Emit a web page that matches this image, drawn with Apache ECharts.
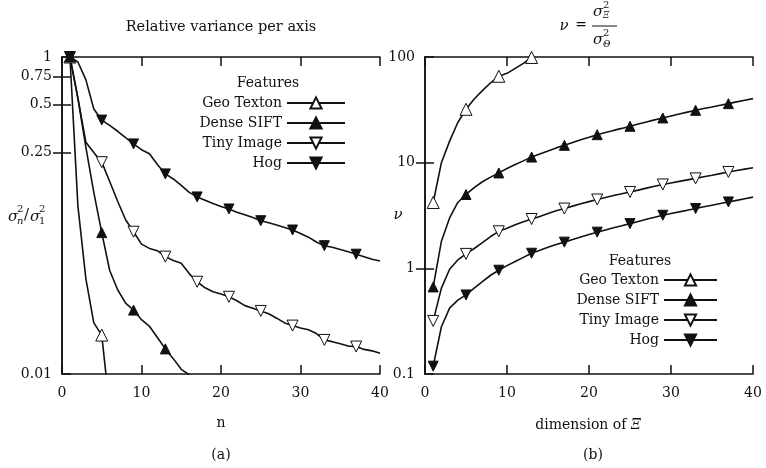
<!DOCTYPE html>
<html><head><meta charset="utf-8">
<script src="https://cdn.jsdelivr.net/npm/echarts@6/dist/echarts.min.js"></script>
<style>html,body{margin:0;padding:0;background:#fff}#c{width:766px;height:468px}</style>
</head><body><div id="c"></div>
<script>
// ---------- data ----------
const seriesNames = ['Geo Texton', 'Dense SIFT', 'Tiny Image', 'Hog'];
const markerN = [1, 5, 9, 13, 17, 21, 25, 29, 33, 37];
const nAll = [1,2,3,4,5,6,7,8,9,10,11,12,13,14,15,16,17,18,19,20,21,22,23,24,25,26,27,28,29,30,31,32,33,34,35,36,37,38,39,40];

// (a) relative variance per axis
const relGeo   = [1.0, 0.115, 0.04, 0.021, 0.0176, 0.006];
const relDense = [1.0, 0.55, 0.27, 0.14, 0.078, 0.045, 0.034, 0.028, 0.0253, 0.022, 0.020, 0.017, 0.0144, 0.0125, 0.0107, 0.0099, 0.0085];
const relTiny  = [1.0, 0.55, 0.29, 0.25, 0.217, 0.164, 0.123, 0.094, 0.079, 0.066, 0.062, 0.060, 0.055, 0.052, 0.050, 0.043, 0.0382, 0.035, 0.033, 0.032,
                  0.0307, 0.029, 0.027, 0.026, 0.025, 0.024, 0.0225, 0.021, 0.0202, 0.0195, 0.019, 0.018, 0.0164, 0.016, 0.0155, 0.015, 0.0149, 0.0143, 0.014, 0.0135];
const relHog   = [1.0, 0.93, 0.72, 0.47, 0.40, 0.37, 0.34, 0.31, 0.283, 0.26, 0.245, 0.21, 0.183, 0.17, 0.155, 0.14, 0.131, 0.125, 0.119, 0.114,
                  0.110, 0.105, 0.101, 0.097, 0.0927, 0.090, 0.087, 0.084, 0.081, 0.077, 0.073, 0.068, 0.0645, 0.063, 0.061, 0.059, 0.057, 0.055, 0.053, 0.0516];

// (b) nu
const nuGeo   = [4.2, 10, 16, 24, 32, 40, 48, 57, 65.7, 70, 78, 87, 99];
const nuDense = [0.667, 1.8, 3.0, 4.2, 5.0, 5.8, 6.6, 7.3, 8.0, 8.8, 9.6, 10.4, 11.3, 12.1, 12.9, 13.8, 14.6, 15.5, 16.5, 17.4,
                 18.4, 19.3, 20.2, 21.1, 22.1, 23.2, 24.3, 25.4, 26.5, 27.7, 28.9, 30.1, 31.3, 32.5, 33.7, 35.0, 36.2, 37.6, 39.0, 40.4];
const nuTiny  = [0.318, 0.65, 0.98, 1.2, 1.37, 1.54, 1.75, 2.0, 2.24, 2.4, 2.58, 2.76, 2.93, 3.1, 3.3, 3.5, 3.68, 3.88, 4.08, 4.28,
                 4.48, 4.68, 4.88, 5.08, 5.28, 5.5, 5.74, 5.98, 6.22, 6.43, 6.65, 6.87, 7.1, 7.35, 7.6, 7.88, 8.17, 8.42, 8.68, 8.95];
const nuHog   = [0.1186, 0.28, 0.42, 0.5, 0.56, 0.65, 0.75, 0.86, 0.96, 1.06, 1.16, 1.27, 1.39, 1.48, 1.58, 1.68, 1.77, 1.87, 1.98, 2.09,
                 2.2, 2.31, 2.42, 2.53, 2.65, 2.78, 2.91, 3.04, 3.18, 3.3, 3.42, 3.55, 3.68, 3.82, 3.96, 4.1, 4.25, 4.4, 4.56, 4.72];

const leftYLabels = [0.01, 0.25, 0.5, 0.75, 1];
const leftYMirrorTicks = [0.25, 0.5, 0.75];
const rightYLabels = [0.1, 1, 10, 100];
const rightYMirrorTicks = [1, 10];

// ---------- style ----------
const FONT = 'DejaVu Serif';
const FS = 14;
const INK = '#111';
const styles = {
  'Geo Texton': { symbol: 'triangle', rotate: 0,   fill: '#fff', size: 12 },
  'Dense SIFT': { symbol: 'triangle', rotate: 0,   fill: INK,    size: 10 },
  'Tiny Image': { symbol: 'triangle', rotate: 180, fill: '#fff', size: 11 },
  'Hog':        { symbol: 'triangle', rotate: 180, fill: INK,    size: 10 }
};

function mkSeries(name, vals, xi, yi) {
  const s = styles[name];
  return {
    name, type: 'line', xAxisIndex: xi, yAxisIndex: yi,
    clip: true, showAllSymbol: true,
    symbol: s.symbol, symbolRotate: s.rotate, symbolSize: s.size,
    itemStyle: { color: s.fill, borderColor: INK, borderWidth: 1 },
    lineStyle: { color: INK, width: 1.6 },
    emphasis: { disabled: true },
    data: vals.map((v, i) => ({ value: [nAll[i], v], symbolSize: markerN.includes(nAll[i]) ? s.size : 0 }))
  };
}

const fmt = v => String(parseFloat(Number(v).toPrecision(3)));
const axLine = { show: true, lineStyle: { color: INK, width: 1.5 } };
const tickStyle = { color: INK, width: 1.5 };

function xAxes(gi) {
  return [
    { gridIndex: gi, type: 'value', min: 0, max: 40, interval: 10, position: 'bottom',
      axisLine: axLine, axisTick: { show: true, inside: true, length: 9, lineStyle: tickStyle },
      axisLabel: { show: true, color: INK, fontFamily: FONT, fontSize: FS, margin: 12, formatter: fmt }, splitLine: { show: false } },
    { gridIndex: gi, type: 'value', min: 0, max: 40, interval: 10, position: 'top',
      axisLine: axLine, axisTick: { show: true, inside: true, length: 9, lineStyle: tickStyle },
      axisLabel: { show: false }, splitLine: { show: false } }
  ];
}

function logY(gi, min, max, labels, mirrorTicks) {
  return [
    { gridIndex: gi, type: 'log', logBase: 10, min, max, position: 'left',
      axisLine: axLine, axisTick: { show: true, inside: true, length: 9, customValues: labels, lineStyle: tickStyle },
      minorTick: { show: false },
      axisLabel: { show: true, color: INK, fontFamily: FONT, fontSize: FS, margin: 10, customValues: labels, formatter: fmt },
      splitLine: { show: false } },
    { gridIndex: gi, type: 'log', logBase: 10, min, max, position: 'right',
      axisLine: axLine, axisTick: { show: true, inside: true, length: 9, customValues: mirrorTicks, lineStyle: tickStyle },
      minorTick: { show: false },
      axisLabel: { show: false }, splitLine: { show: false } }
  ];
}

function T(x, y, text, opt) {
  opt = opt || {};
  return { type: 'text', x, y, silent: true, z: 100,
    style: { text, fill: INK, fontFamily: FONT, fontSize: opt.size || FS, fontStyle: opt.italic ? 'italic' : 'normal',
             align: opt.align || 'center', verticalAlign: 'middle', rich: opt.rich } };
}

const graphics = [
  T(221, 27, 'Relative variance per axis', { size: 14.5 }),
  T(221, 423, 'n'),
  T(221, 455, '(a)'),
  T(593, 455, '(b)'),
  T(588, 425, '{a|dimension of }{i|Ξ}', { rich: { a: { fontFamily: FONT, fontSize: FS, fill: INK }, i: { fontFamily: FONT, fontSize: FS, fontStyle: 'italic', fill: INK } } }),
  T(268, 83, 'Features'),
  T(640, 261, 'Features'),
  // y name (a): sigma_n^2 / sigma_1^2
  T(8, 217, 'σ', { italic: true, align: 'left', size: 15 }),
  T(17, 209, '2', { align: 'left', size: 10 }),
  T(17, 221, 'n', { italic: true, align: 'left', size: 10 }),
  T(24, 215, '/', { align: 'left', size: 15 }),
  T(30, 217, 'σ', { italic: true, align: 'left', size: 15 }),
  T(39, 209, '2', { align: 'left', size: 10 }),
  T(39, 221, '1', { align: 'left', size: 10 }),
  // y name (b)
  T(398, 215, 'ν', { italic: true, size: 15 }),
  // title (b): nu = sigma_Xi^2 / sigma_Theta^2
  T(564, 26, 'ν', { italic: true, size: 15 }),
  T(581, 25, '=', { size: 14 }),
  T(593, 12, 'σ', { italic: true, align: 'left', size: 15 }),
  T(603, 5, '2', { align: 'left', size: 10 }),
  T(603, 16, 'Ξ', { italic: true, align: 'left', size: 9 }),
  T(593, 40, 'σ', { italic: true, align: 'left', size: 15 }),
  T(603, 33, '2', { align: 'left', size: 10 }),
  T(603, 45, 'Θ', { italic: true, align: 'left', size: 9 }),
  { type: 'line', silent: true, shape: { x1: 592, y1: 26, x2: 617, y2: 26 }, style: { stroke: INK, lineWidth: 1 } }
];

const legendText = { color: INK, fontFamily: FONT, fontSize: FS, lineHeight: 14 };

const option = {
  animation: false,
  backgroundColor: '#fff',
  grid: [
    { left: 62, top: 57, width: 318, height: 317 },
    { left: 425, top: 57, width: 328, height: 317 }
  ],
  xAxis: [...xAxes(0), ...xAxes(1)],
  yAxis: [...logY(0, 0.01, 1, leftYLabels, leftYMirrorTicks), ...logY(1, 0.1, 100, rightYLabels, rightYMirrorTicks)],
  legend: [
    { data: seriesNames, orient: 'vertical', align: 'right', right: 420, top: 96, padding: 0,
      itemWidth: 58, itemHeight: 14, itemGap: 6, selectedMode: false, textStyle: legendText },
    { data: seriesNames, orient: 'vertical', align: 'right', right: 48, top: 273, padding: 0,
      itemWidth: 53, itemHeight: 14, itemGap: 6, selectedMode: false, textStyle: legendText }
  ],
  series: [
    mkSeries('Geo Texton', relGeo, 0, 0),
    mkSeries('Dense SIFT', relDense, 0, 0),
    mkSeries('Tiny Image', relTiny, 0, 0),
    mkSeries('Hog', relHog, 0, 0),
    mkSeries('Geo Texton', nuGeo, 2, 2),
    mkSeries('Dense SIFT', nuDense, 2, 2),
    mkSeries('Tiny Image', nuTiny, 2, 2),
    mkSeries('Hog', nuHog, 2, 2)
  ],
  graphic: graphics
};

const chart = echarts.init(document.getElementById('c'), null, { renderer: 'canvas' });
chart.setOption(option);
</script>
</body></html>
